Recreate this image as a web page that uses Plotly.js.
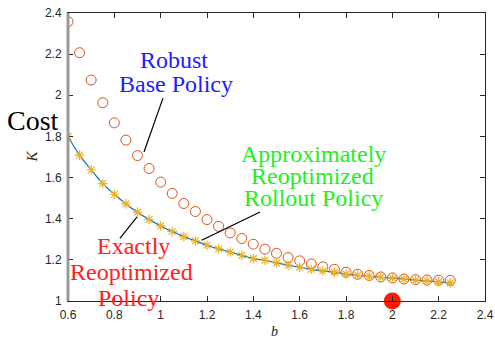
<!DOCTYPE html>
<html>
<head>
<meta charset="utf-8">
<script src="https://cdn.plot.ly/plotly-3.0.1.min.js"></script>
<style>html,body{margin:0;padding:0;background:#fff;}#chart{width:495px;height:341px;}</style>
</head>
<body>
<div id="chart"></div>
<script>
const bValues = [0.6,0.65,0.7,0.75,0.8,0.85,0.9,0.95,1.0,1.05,1.1,1.15,1.2,1.25,1.3,1.35,1.4,1.45,1.5,1.55,1.6,1.65,1.7,1.75,1.8,1.85,1.9,1.95,2.0,2.05,2.1,2.15,2.2,2.25];
const robustBase = [2.358,2.207,2.074,1.964,1.866,1.782,1.707,1.644,1.578,1.523,1.474,1.435,1.396,1.363,1.331,1.304,1.276,1.252,1.232,1.211,1.195,1.180,1.166,1.154,1.140,1.130,1.124,1.117,1.112,1.107,1.104,1.102,1.101,1.100];
const exactReopt = [1.800,1.709,1.638,1.571,1.519,1.472,1.432,1.396,1.365,1.338,1.313,1.292,1.271,1.253,1.238,1.222,1.206,1.198,1.185,1.174,1.164,1.154,1.146,1.140,1.131,1.125,1.120,1.115,1.112,1.106,1.101,1.098,1.093,1.088];
const approxRollout = [1.800,1.709,1.638,1.571,1.519,1.472,1.432,1.396,1.365,1.338,1.313,1.292,1.271,1.253,1.238,1.222,1.206,1.198,1.185,1.174,1.164,1.154,1.146,1.140,1.131,1.125,1.120,1.115,1.112,1.106,1.101,1.098,1.093,1.088];
const nominalPoint = {b: [2.0], K: [1.0]};
const xTicks = [0.6,0.8,1,1.2,1.4,1.6,1.8,2,2.2,2.4];
const yTicks = [1,1.2,1.4,1.6,1.8,2,2.2,2.4];
const labelRobust = ['Robust', 'Base Policy'];
const labelRollout = ['Approximately', 'Reoptimized', 'Rollout Policy'];
const labelExact = ['Exactly', 'Reoptimized', 'Policy'];

const serif = 'Liberation Serif';
const traces = [
  {x: bValues, y: exactReopt, mode: 'lines', line: {color: '#0072BD', width: 1.2, shape: 'spline'}, hoverinfo: 'skip'},
  {x: bValues, y: robustBase, mode: 'markers', marker: {symbol: 'circle-open', size: 10, color: '#D95319', line: {width: 1, color: '#D95319'}}},
  {x: bValues, y: approxRollout, mode: 'markers', marker: {symbol: 'asterisk-open', size: 8, color: '#EDB120', line: {width: 1.2, color: '#EDB120'}}},
  {x: nominalPoint.b, y: nominalPoint.K, mode: 'markers', cliponaxis: false, marker: {symbol: 'circle', size: 17, color: '#FF1A00'}}
];

const axisCommon = {
  showgrid: false, zeroline: false, ticks: 'inside', ticklen: 5, tickcolor: '#262626',
  mirror: 'ticks', showline: true, linecolor: '#262626', linewidth: 1, ticklabelstandoff: 3,
  tickfont: {family: 'Liberation Sans', size: 12, color: '#262626'}
};

function textLine(txt, x, y, color) {
  return {x: x, y: y, text: txt, showarrow: false, xanchor: 'center', yanchor: 'middle',
    font: {family: serif, size: 24, color: color}};
}

const annotations = [
  textLine(labelRobust[0], 1.057, 2.172, '#2020FF'),
  textLine(labelRobust[1], 1.065, 2.054, '#2020FF'),
  textLine(labelRollout[0], 1.660, 1.715, '#20F020'),
  textLine(labelRollout[1], 1.655, 1.608, '#20F020'),
  textLine(labelRollout[2], 1.660, 1.503, '#20F020'),
  textLine(labelExact[0], 0.883, 1.268, '#FF2020'),
  textLine(labelExact[1], 0.874, 1.141, '#FF2020'),
  textLine(labelExact[2], 0.862, 1.017, '#FF2020'),
  {xref: 'paper', yref: 'paper', x: -0.0839, y: 0.6274, xanchor: 'center', yanchor: 'middle', text: 'Cost', showarrow: false, font: {family: serif, size: 28, color: '#000'}},
  {xref: 'paper', yref: 'paper', x: 0.4964, y: -0.106, xanchor: 'center', yanchor: 'middle', text: '<i>b</i>', showarrow: false, font: {family: serif, size: 14, color: '#262626'}},
  {xref: 'paper', yref: 'paper', x: -0.0887, y: 0.5017, xanchor: 'center', yanchor: 'middle', textangle: -90, text: '<i>K</i>', showarrow: false, font: {family: serif, size: 15, color: '#262626'}}
];

const layout = {
  width: 495, height: 341,
  margin: {l: 68, r: 10, t: 13, b: 40},
  paper_bgcolor: '#fff', plot_bgcolor: '#fff',
  showlegend: false,
  xaxis: Object.assign({}, axisCommon, {range: [0.6, 2.4], tickvals: xTicks, ticktext: xTicks.map(String)}),
  yaxis: Object.assign({}, axisCommon, {range: [1, 2.4], tickvals: yTicks, ticktext: yTicks.map(String)}),
  shapes: [
    {type: 'line', xref: 'paper', yref: 'paper', x0: 0, x1: 0, y0: 0, y1: 1, line: {color: '#999', width: 3}},
    {type: 'line', x0: 1.010, y0: 1.986, x1: 0.928, y1: 1.724, line: {color: '#000', width: 1.2}},
    {type: 'line', x0: 1.177, y0: 1.295, x1: 1.429, y1: 1.433, line: {color: '#000', width: 1.2}},
    {type: 'line', x0: 0.898, y0: 1.409, x1: 0.824, y1: 1.305, line: {color: '#000', width: 1.2}}
  ],
  annotations: annotations
};

Plotly.newPlot('chart', traces, layout, {displayModeBar: false, staticPlot: true});
</script>
</body>
</html>
